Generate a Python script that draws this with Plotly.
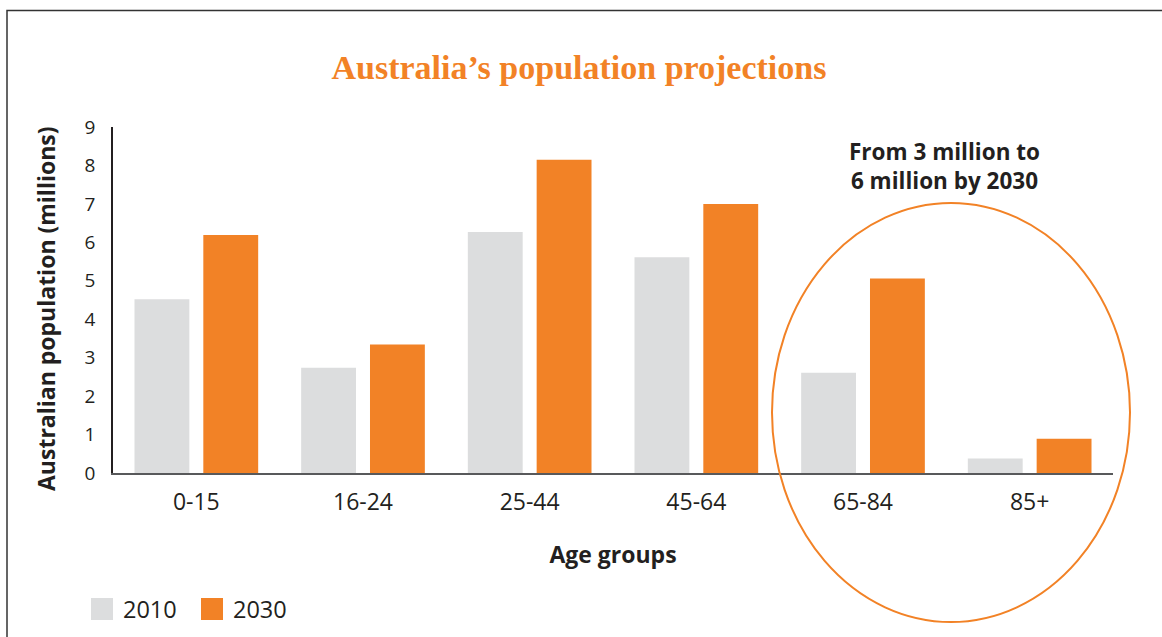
import plotly.graph_objects as go

# ---- data ----
age_groups = ["0-15", "16-24", "25-44", "45-64", "65-84", "85+"]
series_names = ["2010", "2030"]
pop_2010 = [4.52, 2.74, 6.27, 5.61, 2.61, 0.38]
pop_2030 = [6.19, 3.34, 8.15, 7.00, 5.06, 0.89]
series_values = [pop_2010, pop_2030]
series_colors = ["#DCDDDE", "#F28226"]
y_ticks = [0, 1, 2, 3, 4, 5, 6, 7, 8, 9]

TEXT = "#231F20"
SANS = "Open Sans"
W, H = 1162, 637
L, R, T, B = 113, 49, 127, 164
PW, PH = W - L - R, H - T - B


def px(x):
    return (x - L) / PW


def py(y):
    return (H - B - y) / PH


fig = go.Figure()
for name, vals, col in zip(series_names, series_values, series_colors):
    fig.add_trace(go.Bar(x=age_groups, y=vals, name=name, marker_color=col,
                         marker_line_width=0, showlegend=False))

fig.update_layout(
    width=W, height=H,
    margin=dict(l=L, r=R, t=T, b=B),
    paper_bgcolor="white", plot_bgcolor="white",
    barmode="group", bargap=0.174, bargroupgap=0.203,
    title=dict(text="<b>Australia\u2019s population projections</b>",
               font=dict(family="Liberation Serif", size=34, color="#F28226"),
               x=px(579), xref="paper", xanchor="center",
               y=1 - 67 / H, yref="container", yanchor="middle"),
    font=dict(family=SANS, color=TEXT),
    hovermode=False,
)

fig.update_xaxes(
    showline=True, linecolor="#58595B", linewidth=2, showgrid=False,
    ticks="", tickfont=dict(family=SANS, size=23, color=TEXT),
    ticklabelstandoff=7,
    title=dict(text="<b>Age groups</b>", font=dict(family=SANS, size=23, color=TEXT),
               standoff=31),
)
fig.update_yaxes(
    range=[0, 9], tickvals=y_ticks, showline=True, linecolor="#231F20", linewidth=1.5,
    showgrid=False, zeroline=False, ticks="",
    tickfont=dict(family=SANS, size=19, color=TEXT), ticklabelstandoff=12,
)

shapes = [
    # outer frame
    dict(type="rect", xref="paper", yref="paper", x0=px(7), x1=px(1175),
         y0=py(660), y1=py(10.5), line=dict(color="#333333", width=1.5)),
    # highlight ellipse
    dict(type="circle", xref="paper", yref="paper", x0=px(772), x1=px(1130),
         y0=py(622), y1=py(203), line=dict(color="#F28226", width=2)),
]

annotations = [
    # y-axis title
    dict(text="<b>Australian population (millions)</b>", xref="paper", yref="paper",
         x=px(46), y=py(309), xanchor="center", yanchor="middle", textangle=-90,
         showarrow=False, font=dict(family=SANS, size=23, color=TEXT)),
    dict(text="<b>From 3 million to<br>6 million by 2030</b>", xref="paper", yref="paper",
         x=px(944), y=py(166), xanchor="center", yanchor="middle", showarrow=False,
         font=dict(family=SANS, size=22.5, color=TEXT)),
]

# manual legend (large swatches)
legend_x = [91, 201]
for i, (name, col) in enumerate(zip(series_names, series_colors)):
    x0 = legend_x[i]
    shapes.append(dict(type="rect", xref="paper", yref="paper", x0=px(x0), x1=px(x0 + 22),
                       y0=py(620), y1=py(598), fillcolor=col, line=dict(width=0)))
    annotations.append(dict(text=name, xref="paper", yref="paper", x=px(x0 + 30), y=py(609),
                            xanchor="left", yanchor="middle", showarrow=False,
                            font=dict(family=SANS, size=23.5, color=TEXT)))

fig.update_layout(shapes=shapes, annotations=annotations)
fig.write_html("out.html", config={"displayModeBar": False},
               post_script="document.body.style.margin='0';document.body.style.overflow='hidden';")
